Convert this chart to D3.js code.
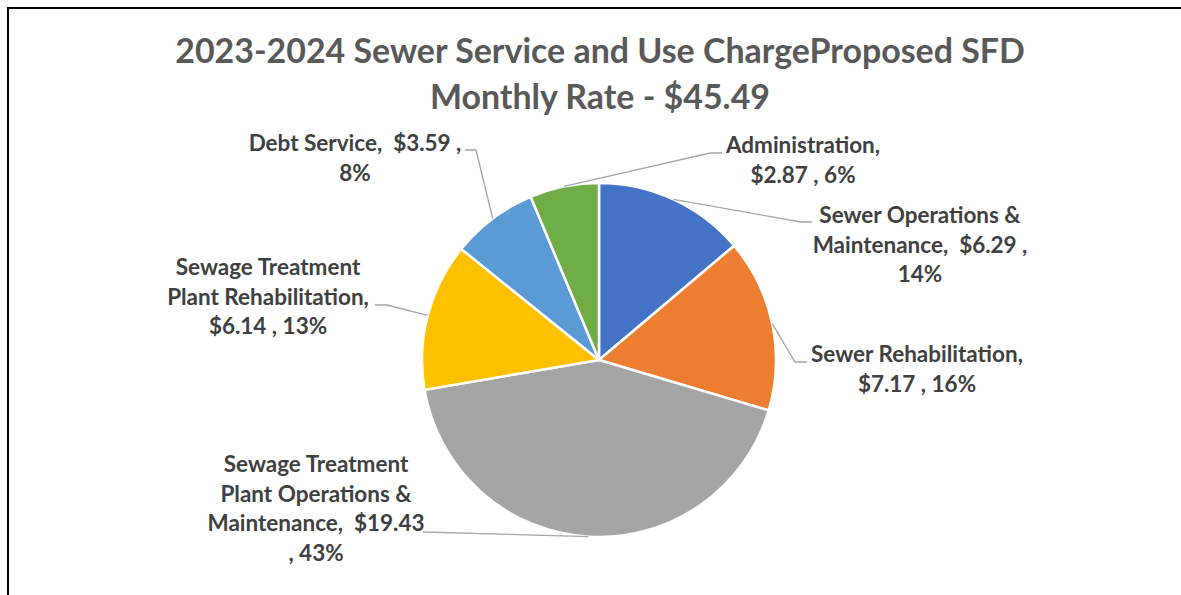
<!DOCTYPE html>
<html>
<head>
<meta charset="utf-8">
<script src="https://cdn.jsdelivr.net/npm/d3@7"></script>
<style>
  html, body { margin: 0; padding: 0; background: #fff; }
  svg { display: block; }
  text { white-space: pre; }
</style>
</head>
<body>
<svg id="chart" width="1181" height="595"></svg>
<script>
// ---------- data ----------
const titleLines = ["2023-2024 Sewer Service and Use ChargeProposed SFD", "Monthly Rate - $45.49"];
const categories = [
  "Sewer Operations & Maintenance",
  "Sewer Rehabilitation",
  "Sewage Treatment Plant Operations & Maintenance",
  "Sewage Treatment Plant Rehabilitation",
  "Debt Service",
  "Administration"
];
const values = [6.29, 7.17, 19.43, 6.14, 3.59, 2.87];
const percents = ["14%", "16%", "43%", "13%", "8%", "6%"];
const labelLines = [
  ["Sewer Operations &", "Maintenance,  $6.29 ,", "14%"],
  ["Sewer Rehabilitation,", "$7.17 , 16%"],
  ["Sewage Treatment", "Plant Operations &", "Maintenance,  $19.43", ", 43%"],
  ["Sewage Treatment", "Plant Rehabilitation,", "$6.14 , 13%"],
  ["Debt Service,  $3.59 ,", "8%"],
  ["Administration,", "$2.87 , 6%"]
];
const colors = ["#4472C4", "#ED7D31", "#A5A5A5", "#FFC000", "#5B9BD5", "#70AD47"];

// ---------- layout (offsets relative to pie centre) ----------
const cx = 599, cy = 360, R = 177;
// text centre x, first baseline y, elbow point, horizontal end of leader
const labelLayout = [
  { tx: 321, ty: -137, ex: 202, ey: -138, hx: 213 },
  { tx: 318, ty: 2,    ex: 196, ey: 2,    hx: 208 },
  { tx: -283, ty: 112, ex: -176, ey: 172, hx: -176 },
  { tx: -331, ty: -85, ex: -212, ey: -55, hx: -224 },
  { tx: -244, ty: -209, ex: -123, ey: -210, hx: -134 },
  { tx: 204, ty: -207, ex: 111, ey: -207, hx: 123 }
];
const lineGap = 29.5;

const svg = d3.select("#chart");

// frame
svg.append("line").attr("x1", 8).attr("y1", 8).attr("x2", 1181).attr("y2", 8)
  .attr("stroke", "#000").attr("stroke-width", 2);
svg.append("line").attr("x1", 8).attr("y1", 7).attr("x2", 8).attr("y2", 595)
  .attr("stroke", "#000").attr("stroke-width", 2);

// title
const titleFont = "Lato, 'Open Sans', sans-serif";
const title = svg.append("g");
const t1 = title.append("text").attr("x", 600).attr("y", 63)
  .attr("text-anchor", "middle").attr("font-family", titleFont).attr("font-weight", 700)
  .attr("font-size", 30).attr("fill", "#595959").text(titleLines[0]);
const w1 = t1.node().getComputedTextLength();
const titleSize = 30 * 850 / w1;
t1.attr("font-size", titleSize);
title.append("text").attr("x", 600).attr("y", 109)
  .attr("text-anchor", "middle").attr("font-family", titleFont).attr("font-weight", 700)
  .attr("font-size", titleSize).attr("fill", "#595959").text(titleLines[1]);

// pie
const pie = d3.pie().sort(null).value(d => d)
  .startAngle(0).endAngle(2 * Math.PI);
const arcs = pie(values);
const arc = d3.arc().innerRadius(0).outerRadius(R);
const g = svg.append("g").attr("transform", `translate(${cx},${cy})`);
g.selectAll("path.slice").data(arcs).enter().append("path")
  .attr("class", "slice")
  .attr("d", arc)
  .attr("fill", (d, i) => colors[i])
  .attr("stroke", "#fff").attr("stroke-width", 2.5).attr("stroke-linejoin", "round");

// leaders
arcs.forEach((a, i) => {
  const mid = (a.startAngle + a.endAngle) / 2;
  const px = R * Math.sin(mid), py = -R * Math.cos(mid);
  const L = labelLayout[i];
  g.append("polyline")
    .attr("points", `${px},${py} ${L.ex},${L.ey} ${L.hx},${L.ey}`)
    .attr("fill", "none").attr("stroke", "#A6A6A6").attr("stroke-width", 1.3);
});

// labels
const labelFont = "Lato, 'Open Sans', sans-serif";
const probe = svg.append("text").attr("font-family", labelFont).attr("font-weight", 700)
  .attr("font-size", 20).text("Sewer Rehabilitation,");
const labelSize = 20 * 212 / probe.node().getComputedTextLength();
probe.remove();

arcs.forEach((a, i) => {
  const L = labelLayout[i];
  const t = g.append("text")
    .attr("text-anchor", "middle").attr("font-family", labelFont).attr("font-weight", 700)
    .attr("font-size", labelSize).attr("fill", "#404040");
  labelLines[i].forEach((ln, k) => {
    t.append("tspan").attr("x", L.tx).attr("y", L.ty + k * lineGap).text(ln);
  });
});
</script>
</body>
</html>
